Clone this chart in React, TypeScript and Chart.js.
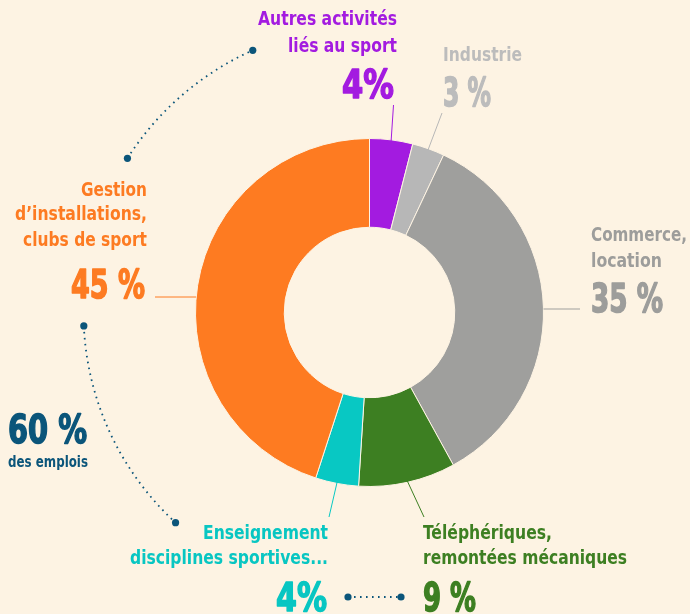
import React, { useEffect, useRef } from "react";
import { Chart, registerables } from "chart.js";

Chart.register(...registerables);

const categories = [
  "Autres activités liés au sport",
  "Industrie",
  "Commerce, location",
  "Téléphériques, remontées mécaniques",
  "Enseignement disciplines sportives...",
  "Gestion d’installations, clubs de sport",
];
const values = [4, 3, 35, 9, 4, 45];
const percentLabels = ["4%", "3 %", "35 %", "9 %", "4%", "45 %"];
const labelLines = [
  ["Autres activités", "liés au sport"],
  ["Industrie"],
  ["Commerce,", "location"],
  ["Téléphériques,", "remontées mécaniques"],
  ["Enseignement", "disciplines sportives..."],
  ["Gestion", "d’installations,", "clubs de sport"],
];
const colors = ["#a31be0", "#b7b7b7", "#9f9f9d", "#3d7f22", "#08c8c3", "#fe7b21"];
const textColors = ["#a31be0", "#bcbcbc", "#9d9d9b", "#3d7f22", "#08c6c2", "#fd7b22"];
const totalShare = "60 %";
const totalCaption = "des emplois";

const BG = "#fdf3e3";
const NAVY = "#0b557a";
const LABEL_FONT = "bold 19px 'Liberation Sans Narrow', 'DejaVu Sans Condensed', 'Liberation Sans', sans-serif";
const PCT_FONT = "bold 39px 'DejaVu Sans', sans-serif";

// layout of annotation blocks (positions only)
const layout = [
  { align: "right", x: 397, lineYs: [20, 47], widths: [139, 109], pctY: 86, pctX: 394, pctW: 52, lead: { x: 393.5, y: 105 } },
  { align: "left", x: 443, lineYs: [56], widths: [79], pctY: 94, pctX: 443, pctW: 48, lead: { x: 442, y: 113 } },
  { align: "left", x: 591, lineYs: [236, 262], widths: [96, 71], pctY: 300, pctX: 591, pctW: 72, hLine: { y: 309, x: 580 } },
  { align: "left", x: 423, lineYs: [534, 559], widths: [129, 204], pctY: 599, pctX: 423, pctW: 53, lead: { x: 424, y: 517 } },
  { align: "right", x: 328, lineYs: [534, 559], widths: [125, 198], pctY: 599, pctX: 327, pctW: 51, lead: { x: 329, y: 517 } },
  { align: "right", x: 147, lineYs: [191, 215, 241], widths: [66, 132, 124], pctY: 286, pctX: 145, pctW: 74, hLine: { y: 297, x: 155 } },
];

const deg = (d: number) => (d * Math.PI) / 180;

const drawPct = (ctx: any, t: string, x: number, y: number, w: number, col: string) => {
  ctx.font = PCT_FONT;
  ctx.fillStyle = col;
  ctx.strokeStyle = col;
  ctx.lineWidth = 1.6;
  ctx.lineJoin = "round";
  ctx.fillText(t, x, y, w);
  ctx.strokeText(t, x, y, w);
};

const annotations = {
  id: "annotations",
  afterDraw(chart: any) {
    const ctx = chart.ctx;
    const meta = chart.getDatasetMeta(0);
    const arc0 = meta.data[0] as any;
    const cx = arc0.x;
    const cy = arc0.y;
    const R = arc0.outerRadius;
    ctx.save();
    meta.data.forEach((el: any, i: number) => {
      const L = layout[i];
      const col = textColors[i];
      ctx.strokeStyle = colors[i];
      ctx.lineWidth = 1;
      ctx.beginPath();
      if (L.hLine) {
        const dy = L.hLine.y - cy;
        const dx = Math.sqrt(Math.max(R * R - dy * dy, 0));
        const ex = L.hLine.x < cx ? cx - dx : cx + dx;
        ctx.moveTo(L.hLine.x, L.hLine.y);
        ctx.lineTo(ex, L.hLine.y);
      } else if (L.lead) {
        const mid = (el.startAngle + el.endAngle) / 2;
        ctx.moveTo(L.lead.x, L.lead.y);
        ctx.lineTo(cx + Math.cos(mid) * (R - 2), cy + Math.sin(mid) * (R - 2));
      }
      ctx.stroke();
      ctx.fillStyle = col;
      ctx.textAlign = L.align;
      ctx.textBaseline = "middle";
      ctx.font = LABEL_FONT;
      labelLines[i].forEach((t, j) => {
        ctx.fillText(t, L.x, L.lineYs[j], L.widths[j]);
      });
      drawPct(ctx, percentLabels[i], L.pctX, L.pctY + 2, L.pctW, col);
    });

    ctx.textAlign = "left";
    ctx.textBaseline = "middle";
    drawPct(ctx, totalShare, 8, 433, 79, NAVY);
    ctx.fillStyle = NAVY;
    ctx.font = "bold 15px 'Liberation Sans Narrow', 'DejaVu Sans Condensed', sans-serif";
    ctx.fillText(totalCaption, 8, 463, 80);

    const dotArc = (a1: number, a2: number, r: number) => {
      ctx.strokeStyle = NAVY;
      ctx.lineWidth = 1.8;
      ctx.setLineDash([1.6, 4.4]);
      ctx.beginPath();
      ctx.arc(cx, cy, r, deg(a1), deg(a2), a2 < a1);
      ctx.stroke();
      ctx.setLineDash([]);
      ctx.fillStyle = NAVY;
      [a1, a2].forEach((a) => {
        ctx.beginPath();
        ctx.arc(cx + Math.cos(deg(a)) * r, cy + Math.sin(deg(a)) * r, 3.6, 0, Math.PI * 2);
        ctx.fill();
      });
    };
    dotArc(-147.5, -114, 287);
    dotArc(177.3, 132.7, 286);

    ctx.strokeStyle = NAVY;
    ctx.lineWidth = 1.8;
    ctx.setLineDash([1.6, 4.4]);
    ctx.beginPath();
    ctx.moveTo(348, 597);
    ctx.lineTo(401, 597);
    ctx.stroke();
    ctx.setLineDash([]);
    ctx.fillStyle = NAVY;
    [348, 401].forEach((x) => {
      ctx.beginPath();
      ctx.arc(x, 597, 3.6, 0, Math.PI * 2);
      ctx.fill();
    });
    ctx.restore();
  },
};

export default function App() {
  const ref = useRef<HTMLCanvasElement>(null);
  useEffect(() => {
    document.body.style.margin = "0";
    document.body.style.background = BG;
    const chart = new Chart(ref.current!, {
      type: "doughnut",
      data: {
        labels: categories,
        datasets: [
          {
            data: values,
            backgroundColor: colors,
            borderColor: BG,
            borderWidth: 1,
          },
        ],
      },
      options: {
        animation: false,
        responsive: false,
        cutout: "49%",
        layout: { padding: { left: 195, right: 146, top: 138, bottom: 127 } },
        plugins: { legend: { display: false }, tooltip: { enabled: false } },
      },
      plugins: [annotations],
    });
    return () => chart.destroy();
  }, []);
  return (
    <div style={{ width: 690, height: 614, background: BG }}>
      <canvas ref={ref} width={690} height={614} style={{ display: "block" }} />
    </div>
  );
}
